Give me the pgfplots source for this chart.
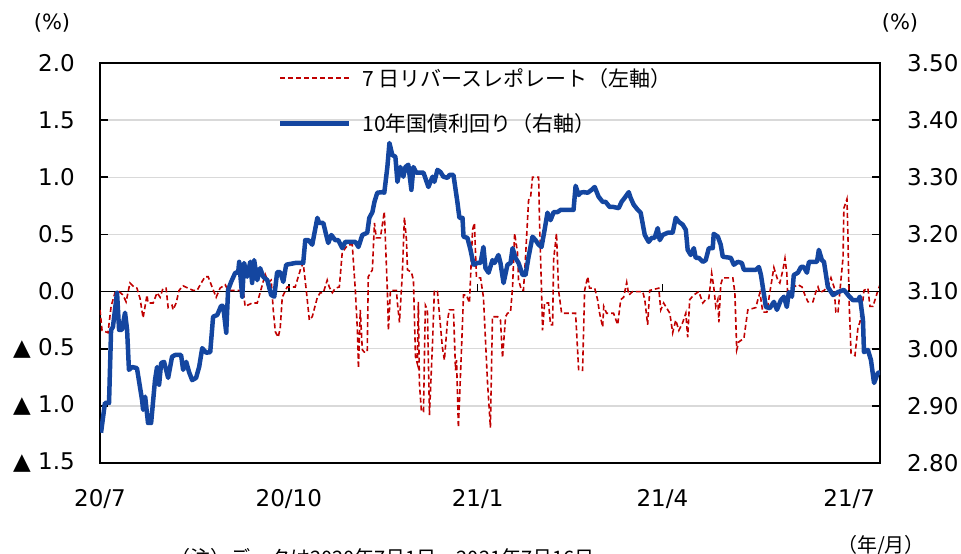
\documentclass[border=0pt]{standalone}
\usepackage{fontspec}
\setmainfont{DejaVu Sans}
\newfontfamily\jp{Noto Sans CJK JP}
\usepackage{pgfplots}
\usepackage{pgfplotstable}
\pgfplotsset{compat=1.18}
\definecolor{myred}{HTML}{C00000}
\definecolor{myblue}{HTML}{1446A0}
\definecolor{mygrid}{HTML}{D9D9D9}

% day index from 2020/7/1 ; 7-day reverse repo rate (left axis, %)
\pgfplotstableread{
d v
0 -0.16
1.0 -0.34
3.9 -0.36
5.4 -0.13
7.3 -0.01
9.3 0.00
11.2 -0.03
12.7 -0.09
14.6 0.075
16.6 0.04
18.0 0.03
19.5 -0.06
21.0 -0.23
22.9 -0.03
23.4 -0.10
25.9 -0.10
27.8 -0.01
29.3 -0.05
30.7 0.03
32.2 0.03
33.2 -0.14
35.1 -0.12
35.6 -0.16
37.1 -0.10
38.5 0.01
40.5 0.05
42.9 0.03
45.4 0.01
47.3 0.01
49.3 0.075
51.2 0.13
52.7 0.13
54.6 0.04
56.6 -0.05
58.5 0.03
61.0 0.06
62.4 0.01
67.3 0.01
69.8 0.01
70.7 -0.13
74.1 -0.10
76.6 -0.10
78.0 -0.01
80.5 0.15
82.0 0.08
83.4 0.10
84.4 -0.16
85.4 -0.35
86.8 -0.40
87.8 -0.32
88.8 -0.05
91.2 0.04
95.1 0.04
97.6 0.19
99.0 0.25
100.5 0.01
102.0 -0.25
103.4 -0.22
105.9 -0.05
107.3 -0.01
108.8 -0.01
110.7 0.10
111.7 0.04
113.2 -0.01
114.6 0.03
116.6 0.04
118.0 0.34
119.5 0.38
121.0 0.41
122.9 0.41
124.4 0.01
125.4 -0.34
125.9 -0.67
126.8 -0.16
127.8 -0.51
128.8 -0.53
130.2 -0.53
130.7 0.13
132.7 0.19
133.7 0.60
134.6 0.47
136.6 0.47
138.5 0.70
140.0 0.01
140.5 -0.34
141.5 0.01
144.4 0.01
144.9 -0.10
145.9 -0.27
147.3 0.16
148.3 0.65
149.3 0.45
149.8 0.19
151.7 0.17
152.7 0.10
153.7 -0.57
154.6 -0.63
155.1 -0.09
155.6 -0.80
156.6 -1.05
157.6 -1.05
158.5 -0.12
159.5 -0.16
160.5 -1.08
162.0 -0.45
162.9 0.01
164.4 0.00
166.8 -0.49
167.8 -0.60
169.3 -0.25
170.2 -0.16
172.2 -0.16
173.2 -0.69
173.7 -0.60
174.6 -1.19
176.1 -0.51
177.1 -0.03
178.5 -0.03
180.0 -0.10
181.5 0.54
182.4 0.60
183.4 0.12
185.4 0.12
186.8 -0.05
188.8 -0.80
190.2 -1.19
191.2 -0.22
193.7 -0.22
195.1 -0.25
196.1 -0.58
197.6 -0.22
198.5 -0.19
200.0 -0.18
201.0 0.04
202.0 0.51
203.4 0.34
203.9 0.10
205.4 0.01
206.3 0.01
207.3 0.30
208.8 0.80
209.8 0.83
210.7 1.00
213.7 1.00
214.1 0.63
215.1 0.01
215.6 -0.34
216.6 -0.10
218.5 -0.10
219.5 -0.29
220.5 -0.29
221.0 0.28
222.4 0.51
223.4 0.01
224.9 -0.19
231.7 -0.19
233.2 -0.69
235.1 -0.69
236.1 0.01
237.6 0.13
238.5 0.03
241.0 0.03
242.4 -0.07
243.4 -0.19
244.9 -0.31
245.4 -0.13
246.8 -0.19
250.2 -0.19
252.2 -0.29
253.7 -0.07
255.1 -0.05
256.6 0.08
257.6 -0.03
259.5 0.00
264.4 0.00
265.4 -0.07
266.8 -0.29
267.8 0.01
272.2 0.03
273.2 -0.16
274.6 -0.10
277.6 -0.19
279.0 -0.36
280.5 -0.25
282.0 -0.34
283.9 -0.27
285.4 -0.19
286.3 -0.40
287.3 -0.07
289.3 -0.03
291.7 0.00
293.7 -0.10
295.1 -0.07
296.6 -0.06
298.0 0.16
299.0 0.04
300.0 -0.13
301.0 -0.07
301.5 -0.27
302.4 0.06
303.4 0.12
308.3 0.12
309.3 -0.01
310.2 -0.51
311.2 -0.44
313.7 -0.41
315.6 -0.16
319.5 -0.14
320.5 -0.07
321.5 -0.01
322.9 -0.18
324.9 -0.18
326.3 -0.01
328.3 0.21
330.2 0.10
331.2 0.075
332.7 0.19
333.7 0.29
334.6 0.16
335.1 -0.07
336.6 -0.05
338.0 0.04
340.0 0.06
342.0 0.04
343.4 -0.03
344.9 -0.09
347.3 -0.09
348.8 0.00
349.8 0.04
350.7 -0.01
352.7 0.01
354.6 0.04
356.1 0.12
357.6 0.04
358.5 -0.18
359.5 -0.19
360.5 0.01
362.0 0.30
362.4 0.73
363.9 0.81
364.4 0.48
364.9 -0.07
365.9 -0.54
367.8 -0.56
369.3 -0.31
370.2 -0.27
371.7 -0.07
372.2 0.01
374.1 0.03
375.1 -0.13
376.6 -0.13
377.6 -0.07
379.0 0.01
380.0 0.06
}\redtable

% 10-year government bond yield (right axis, %)
\pgfplotstableread{
d v
0.5 2.853
2.4 2.905
4.4 2.905
5.4 3.033
6.3 3.038
8.3 3.098
9.3 3.033
10.7 3.033
12.2 3.063
13.2 3.033
14.1 2.963
15.6 2.968
18.0 2.966
20.5 2.910
21.0 2.893
22.0 2.916
23.4 2.870
24.9 2.870
26.8 2.945
27.8 2.968
28.8 2.937
29.8 2.975
31.2 2.977
33.2 2.949
35.1 2.986
36.6 2.989
39.5 2.989
40.5 2.963
42.0 2.977
43.4 2.959
44.9 2.945
46.8 2.949
48.3 2.968
49.8 3.001
51.7 2.993
53.7 2.994
55.1 3.056
57.1 3.059
59.0 3.075
60.0 3.075
61.5 3.028
62.4 3.103
63.9 3.117
65.9 3.133
67.3 3.133
67.8 3.152
69.3 3.091
70.2 3.150
71.7 3.126
73.2 3.152
74.1 3.115
75.1 3.155
76.6 3.120
78.0 3.141
79.5 3.126
81.5 3.120
83.4 3.094
84.9 3.091
86.3 3.134
87.8 3.134
89.3 3.117
90.7 3.147
95.1 3.150
99.0 3.150
100.0 3.190
101.5 3.190
103.4 3.182
105.9 3.229
106.8 3.220
108.8 3.220
110.2 3.199
111.2 3.185
112.7 3.199
114.6 3.190
116.1 3.190
118.0 3.176
119.5 3.187
124.4 3.187
125.9 3.178
127.8 3.199
130.2 3.203
131.2 3.229
132.7 3.239
133.7 3.257
135.1 3.273
137.6 3.274
138.5 3.273
140.0 3.318
141.0 3.360
142.4 3.339
143.9 3.336
144.9 3.292
146.3 3.318
147.8 3.301
148.8 3.318
150.2 3.322
151.7 3.278
152.7 3.318
154.1 3.308
157.6 3.308
160.0 3.283
162.0 3.301
162.9 3.292
164.4 3.313
165.9 3.309
167.3 3.301
169.3 3.299
170.2 3.304
172.2 3.304
174.1 3.257
175.1 3.229
176.6 3.229
177.1 3.196
179.0 3.194
180.5 3.173
182.0 3.147
183.9 3.150
185.4 3.150
186.8 3.178
187.8 3.141
189.3 3.133
191.2 3.155
192.2 3.150
194.1 3.164
195.1 3.150
196.6 3.115
198.5 3.147
200.0 3.150
201.0 3.176
202.4 3.159
203.9 3.150
205.9 3.129
207.3 3.129
208.8 3.161
210.7 3.196
212.2 3.190
213.7 3.182
215.1 3.178
216.6 3.208
218.0 3.238
219.5 3.225
221.0 3.239
222.9 3.239
224.4 3.243
230.7 3.243
231.7 3.285
233.2 3.269
234.1 3.273
235.6 3.274
237.6 3.273
239.5 3.278
241.0 3.283
242.9 3.266
244.9 3.257
246.3 3.257
248.3 3.248
250.2 3.248
252.7 3.246
254.1 3.257
255.6 3.264
257.6 3.274
258.5 3.264
260.0 3.252
262.0 3.243
263.4 3.238
265.4 3.199
267.3 3.187
268.8 3.194
270.2 3.194
271.7 3.211
272.7 3.190
274.1 3.199
276.6 3.203
279.0 3.203
280.5 3.229
282.0 3.222
283.9 3.217
285.4 3.208
286.3 3.173
287.8 3.164
289.3 3.176
290.2 3.159
291.7 3.159
293.7 3.152
295.1 3.155
296.6 3.176
298.5 3.176
299.0 3.201
301.0 3.196
302.4 3.182
303.4 3.161
307.3 3.159
308.8 3.147
310.7 3.152
312.7 3.150
313.7 3.138
319.5 3.138
321.0 3.143
322.0 3.129
324.4 3.073
326.3 3.071
328.3 3.082
329.8 3.068
331.7 3.085
333.2 3.091
334.6 3.073
335.6 3.099
337.1 3.091
338.0 3.129
340.0 3.133
341.5 3.143
342.9 3.143
344.4 3.133
345.4 3.152
349.3 3.152
350.2 3.173
351.7 3.155
352.7 3.152
354.6 3.108
357.1 3.094
359.5 3.099
362.4 3.103
364.9 3.092
366.8 3.085
369.3 3.085
370.2 3.091
371.7 3.050
372.2 2.994
374.1 2.998
375.6 2.980
377.1 2.940
379.0 2.958
380.0 2.958
}\bluetable

\begin{document}
\begin{tikzpicture}[x=1pt,y=1pt]
\path[use as bounding box] (0,0) rectangle (961,554);
\begin{axis}[
  at={(100pt,91pt)}, anchor=south west,
  width=780pt, height=400pt, scale only axis,
  xmin=0, xmax=380, ymin=-1.5, ymax=2.0,
  xtick={0,92,184,274,365},
  xticklabels={20/7,20/10,21/1,21/4,21/7},
  xtick style={draw=none},
  ytick={-1.5,-1,-0.5,0,0.5,1,1.5,2},
  yticklabels={▲ 1.5,▲ 1.0,▲ 0.5,0.0,0.5,1.0,1.5,2.0},
  ytick pos=left, tick align=inside, major tick length=8pt,
  ymajorgrids, grid style={mygrid, line width=1.5pt},
  axis line style={line width=1.8pt},
  ytick style={line width=1.8pt, black},
  tick label style={font=\fontsize{23}{27}\selectfont},
  yticklabel style={anchor=east, inner sep=0pt, xshift=-25pt},
  xticklabel style={anchor=north, inner sep=0pt, yshift=-26pt},
]
\draw[line width=1.8pt] (axis cs:0,0) -- (axis cs:380,0);
\pgfplotsinvokeforeach{92,184,274,365}{\draw[line width=1.5pt] (axis cs:#1,0) -- ++(0pt,8pt);}
\addplot[myred, line width=1.6pt, dash pattern=on 5pt off 3pt] table {\redtable};
\end{axis}
\begin{axis}[
  at={(100pt,91pt)}, anchor=south west,
  width=780pt, height=400pt, scale only axis,
  xmin=0, xmax=380, ymin=2.8, ymax=3.5,
  axis y line*=right, axis x line=none,
  ytick={2.8,2.9,3.0,3.1,3.2,3.3,3.4,3.5},
  tick align=inside, major tick length=8pt,
  axis line style={line width=1.8pt},
  ytick style={line width=1.8pt, black},
  /pgf/number format/assume math mode=true,
  yticklabel style={/pgf/number format/.cd, fixed, fixed zerofill, precision=2, /tikz/.cd, anchor=west, inner sep=0pt, xshift=27pt, font=\fontsize{23}{27}\selectfont},
  legend cell align=left,
  legend image code/.code={\draw[#1] (0pt,0pt) -- (69pt,0pt); \path (77pt,0pt);},
  legend style={at={(0.228,0.995)}, anchor=north west, draw=none, fill=none,
    font=\jp\fontsize{21}{25}\selectfont, row sep=20pt, inner sep=0pt,
    nodes={inner sep=3pt}},
]
\addlegendimage{myred, line width=1.6pt, dash pattern=on 5pt off 3pt}
\addlegendentry{7 日リバースレポレート（左軸）}
\addplot[myblue, line width=4.5pt, line join=round] table {\bluetable};
\addlegendentry{10年国債利回り（右軸）}
\end{axis}
\node[font=\fontsize{21}{25}\selectfont] at (52,531) {(\%)};
\node[font=\fontsize{21}{25}\selectfont] at (900,531) {(\%)};
\node[font=\jp\fontsize{20}{24}\selectfont] at (881,8) {（年/月）};
\node[anchor=north west, inner sep=0pt, font=\jp\fontsize{20}{24}\selectfont] at (170,6) {（注）データは2020年7月1日～2021年7月16日};
\end{tikzpicture}
\end{document}
